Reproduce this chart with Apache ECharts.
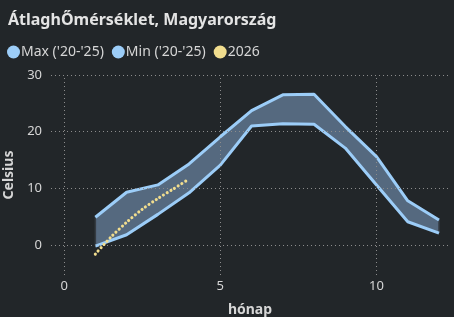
<!DOCTYPE html>
<html>
<head>
<meta charset="utf-8">
<script src="https://cdn.jsdelivr.net/npm/echarts@6/dist/echarts.min.js"></script>
<style>
html,body{margin:0;padding:0;background:#222629;}
#c{width:454px;height:317px;}
</style>
</head>
<body>
<div id="c"></div>
<script>
var months = [1,2,3,4,5,6,7,8,9,10,11,12];
var maxVals = [4.9, 9.3, 10.6, 14.3, 19.1, 23.7, 26.5, 26.6, 20.9, 15.6, 7.8, 4.4];
var minVals = [-0.2, 1.8, 5.4, 9.2, 14.1, 21.0, 21.4, 21.3, 17.1, 10.6, 4.1, 2.1];
var x2026 = [1, 1.5, 2, 2.5, 3, 3.5, 3.9];
var y2026 = [-1.6, 1.4, 4.0, 6.3, 8.2, 9.9, 11.3];
var xTicks = [0, 5, 10];
var yTicks = [0, 10, 20, 30];

var chart = echarts.init(document.getElementById('c'), null, {renderer:'canvas'});
var textCol = '#d6d6d6';
var lineBlue = '#9ccdf8';
var gridStyle = {color:'#8c8c8c', width:1, type:[1,3]};

var gridLines = xTicks.map(function(v){return {xAxis:v};}).concat(yTicks.map(function(v){return {yAxis:v};}));

function renderBand(params, api){
  if (params.dataIndex !== 0) return null;
  var pts = [];
  for (var i=0;i<months.length;i++) pts.push(api.coord([months[i], maxVals[i]]));
  for (var j=months.length-1;j>=0;j--) pts.push(api.coord([months[j], minVals[j]]));
  var n = months.length - 1;
  var l0 = api.coord([months[0], minVals[0]]), l1 = api.coord([months[0], maxVals[0]]);
  var r0 = api.coord([months[n], minVals[n]]), r1 = api.coord([months[n], maxVals[n]]);
  return {
    type:'group',
    children:[
      {type:'polygon', shape:{points:pts}, style:{fill:'#55697f', stroke:null}},
      {type:'line', shape:{x1:l0[0], y1:l0[1], x2:l1[0], y2:l1[1]}, style:{stroke:'#353b42', lineWidth:1.5}},
      {type:'line', shape:{x1:r0[0], y1:r0[1], x2:r1[0], y2:r1[1]}, style:{stroke:'#353b42', lineWidth:1.5}}
    ]
  };
}

var option = {
  backgroundColor:'#222629',
  animation:false,
  title:{
    text:'ÁtlaghŐmérséklet, Magyarország',
    left:3, top:7,
    textStyle:{color:'#e4e4e4', fontSize:16, fontWeight:'bold', fontFamily:'Noto Sans'}
  },
  legend:{
    left:2, top:40,
    itemWidth:13, itemHeight:13, itemGap:8,
    icon:'circle',
    data:["Max ('20-'25)", "Min ('20-'25)", "2026"],
    textStyle:{color:textCol, fontSize:14, fontFamily:'Noto Sans', padding:[0,0,0,-4]}
  },
  grid:{left:51, right:5, top:75, bottom:42, containLabel:false, outerBoundsMode:'none'},
  xAxis:{
    type:'value', min:-0.42, max:12.32,
    name:'hónap', nameLocation:'middle', nameGap:28,
    nameTextStyle:{color:textCol, fontSize:14, fontWeight:'bold', fontFamily:'Noto Sans'},
    axisLine:{show:false}, axisTick:{show:false}, splitLine:{show:false},
    axisLabel:{customValues:xTicks, color:textCol, fontSize:13, margin:5, fontFamily:'Noto Sans'}
  },
  yAxis:{
    type:'value', min:-5.3, max:30,
    name:'Celsius', nameLocation:'middle', nameGap:33, nameRotate:90,
    nameTextStyle:{color:textCol, fontSize:14, fontWeight:'bold', fontFamily:'Noto Sans'},
    axisLine:{show:false}, axisTick:{show:false}, splitLine:{show:false},
    axisLabel:{customValues:yTicks, color:textCol, fontSize:13, margin:9, fontFamily:'Noto Sans'}
  },
  series:[
    {
      name:'gridlines', type:'line', data:[], silent:true,
      markLine:{silent:true, symbol:'none', label:{show:false}, lineStyle:gridStyle, animation:false,
        emphasis:{disabled:true}, data:gridLines}
    },
    {
      name:'band', type:'custom', silent:true, renderItem:renderBand,
      data:[[months[0], minVals[0]]], z:1
    },
    {
      name:"Max ('20-'25)", type:'line', symbol:'none', color:lineBlue, z:3,
      lineStyle:{color:lineBlue, width:3},
      data:months.map(function(m,i){return [m, maxVals[i]];})
    },
    {
      name:"Min ('20-'25)", type:'line', symbol:'none', color:lineBlue, z:3,
      lineStyle:{color:lineBlue, width:3},
      data:months.map(function(m,i){return [m, minVals[i]];})
    },
    {
      name:'2026', type:'line', symbol:'none', color:'#f1dd8e', smooth:0.3,
      lineStyle:{color:'#f1dd8e', width:3.1, type:[0.01,4.3], cap:'round'},
      z:5,
      data:x2026.map(function(x,i){return [x, y2026[i]];})
    }
  ]
};
chart.setOption(option);
</script>
</body>
</html>
